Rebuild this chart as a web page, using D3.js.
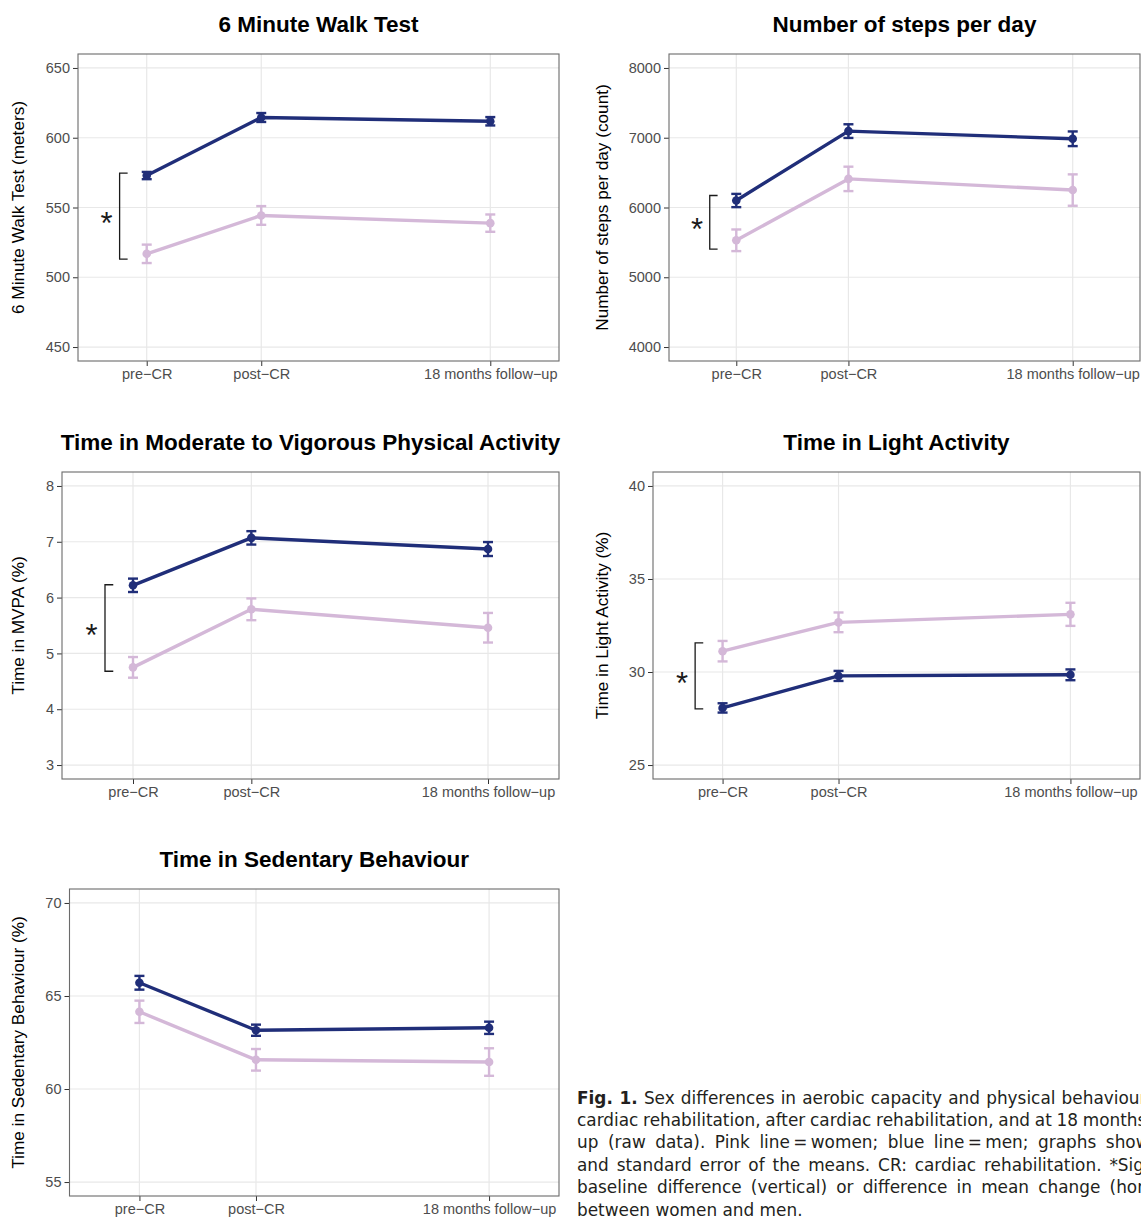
<!DOCTYPE html>
<html>
<head>
<meta charset="utf-8">
<script src="https://cdn.jsdelivr.net/npm/d3@7"></script>
<style>
  body { margin: 0; background: #fff; }
  svg { display: block; }
</style>
</head>
<body>
<script>
(function(){

    //time points on the x axis (months since start of CR)
    var timeLabels = ["pre\u2212CR", "post\u2212CR", "18 months follow\u2212up"];
    var timeMonths = [0, 6, 18];

    //panel titles and axis titles
    var panelTitles = ["6 Minute Walk Test", "Number of steps per day",
        "Time in Moderate to Vigorous Physical Activity", "Time in Light Activity",
        "Time in Sedentary Behaviour"];
    var yTitles = ["6 Minute Walk Test (meters)", "Number of steps per day (count)",
        "Time in MVPA (%)", "Time in Light Activity (%)", "Time in Sedentary Behaviour (%)"];
    var yTicks = [
        [450, 500, 550, 600, 650],
        [4000, 5000, 6000, 7000, 8000],
        [3, 4, 5, 6, 7, 8],
        [25, 30, 35, 40],
        [55, 60, 65, 70]
    ];

    //means and standard errors, men (blue)
    var menMean = [
        [572.9, 614.5, 611.8],
        [6100, 7095, 6985],
        [6.22, 7.07, 6.87],
        [28.07, 29.79, 29.85],
        [65.71, 63.16, 63.29]
    ];
    var menSE = [
        [2.6, 3.2, 3.0],
        [95, 98, 105],
        [0.12, 0.12, 0.125],
        [0.25, 0.27, 0.29],
        [0.37, 0.30, 0.33]
    ];

    //means and standard errors, women (pink)
    var womenMean = [
        [516.8, 544.3, 538.8],
        [5530, 6410, 6250],
        [4.75, 5.79, 5.46],
        [31.12, 32.67, 33.1],
        [64.15, 61.57, 61.45]
    ];
    var womenSE = [
        [6.6, 6.7, 6.2],
        [155, 175, 225],
        [0.185, 0.195, 0.265],
        [0.55, 0.53, 0.62],
        [0.6, 0.58, 0.74]
    ];

    //baseline significance brackets (value range), none for sedentary
    var sigRange = [[513, 574.6], [5403, 6172], [4.68, 6.23], [28.02, 31.57], null];

    var captionLines = [
        "Sex differences in aerobic capacity and physical behaviour before",
        "cardiac rehabilitation, after cardiac rehabilitation, and at 18 months follow-",
        "up (raw data). Pink line\u2009=\u2009women; blue line\u2009=\u2009men; graphs show mean",
        "and standard error of the means. CR: cardiac rehabilitation. *Significant",
        "baseline difference (vertical) or difference in mean change (horizontal)",
        "between women and men."
    ];

    var width = 1141,
        height = 1217;

    var blue = "#202e79",
        pink = "#d4b8d8";

    var fontSans = "'Liberation Sans', Arial, sans-serif";

    //plot area of each panel
    var panels = [
        {left: 78,  right: 559,  top: 54,  bottom: 361,  yTitleX: 18},
        {left: 669, right: 1140, top: 54,  bottom: 361,  yTitleX: 602},
        {left: 62,  right: 559,  top: 472, bottom: 779,  yTitleX: 18},
        {left: 653, right: 1140, top: 472, bottom: 779,  yTitleX: 602},
        {left: 69.5, right: 559, top: 889, bottom: 1196, yTitleX: 18}
    ];

    var svg = d3.select("body")
        .append("svg")
        .attr("width", width)
        .attr("height", height);

    panels.forEach(function(p, i){
        drawPanel(p, i);
    });

    drawCaption();

    function drawPanel(p, i){
        var ticks = yTicks[i];
        var lo = ticks[0],
            hi = ticks[ticks.length - 1],
            pad = (hi - lo) * 0.05;

        var x = d3.scaleLinear()
            .domain([-3.6, 21.6])
            .range([p.left, p.right]);

        var y = d3.scaleLinear()
            .domain([lo - pad, hi + pad])
            .range([p.bottom, p.top]);

        var g = svg.append("g").attr("class", "panel");

        //grid lines
        g.selectAll(".hgrid")
            .data(ticks)
            .enter()
            .append("line")
            .attr("x1", p.left)
            .attr("x2", p.right)
            .attr("y1", function(d){ return y(d); })
            .attr("y2", function(d){ return y(d); })
            .attr("stroke", "#e8e8e8")
            .attr("stroke-width", 1.2);

        g.selectAll(".vgrid")
            .data(timeMonths)
            .enter()
            .append("line")
            .attr("x1", function(d){ return x(d); })
            .attr("x2", function(d){ return x(d); })
            .attr("y1", p.top)
            .attr("y2", p.bottom)
            .attr("stroke", "#e8e8e8")
            .attr("stroke-width", 1.2);

        //axes
        var yAxis = d3.axisLeft(y)
            .tickValues(ticks)
            .tickFormat(function(d){ return String(d); })
            .tickSize(5)
            .tickPadding(3);

        var xAxis = d3.axisBottom(x)
            .tickValues(timeMonths)
            .tickFormat(function(d, j){ return timeLabels[j]; })
            .tickSize(5)
            .tickPadding(3);

        var ya = g.append("g")
            .attr("transform", "translate(" + p.left + ",0)")
            .call(yAxis);

        var xa = g.append("g")
            .attr("transform", "translate(0," + p.bottom + ")")
            .call(xAxis);

        [ya, xa].forEach(function(a){
            a.select(".domain").remove();
            a.selectAll(".tick line").attr("stroke", "#333");
            a.selectAll(".tick text")
                .attr("fill", "#4d4d4d")
                .style("font-family", fontSans)
                .style("font-size", "14.5px");
        });

        //panel border
        g.append("rect")
            .attr("x", p.left)
            .attr("y", p.top)
            .attr("width", p.right - p.left)
            .attr("height", p.bottom - p.top)
            .attr("fill", "none")
            .attr("stroke", "#6b6b6b")
            .attr("stroke-width", 1.1);

        //titles
        g.append("text")
            .attr("x", (p.left + p.right) / 2)
            .attr("y", p.top - 22)
            .attr("text-anchor", "middle")
            .style("font-family", fontSans)
            .style("font-weight", "bold")
            .style("font-size", "22.5px")
            .text(panelTitles[i]);

        g.append("text")
            .attr("transform", "translate(" + (p.yTitleX + 6) + "," + ((p.top + p.bottom) / 2) + ") rotate(-90)")
            .attr("text-anchor", "middle")
            .style("font-family", fontSans)
            .style("font-size", "17.2px")
            .text(yTitles[i]);

        //series
        drawSeries(g, x, y, womenMean[i], womenSE[i], pink);
        drawSeries(g, x, y, menMean[i], menSE[i], blue);

        //significance bracket
        if (sigRange[i]){
            var r = sigRange[i];
            g.append("path")
                .attr("d", "M" + x(-1.0) + "," + y(r[1]) +
                    "H" + x(-1.42) + "V" + y(r[0]) + "H" + x(-1.0))
                .attr("fill", "none")
                .attr("stroke", "#1a1a1a")
                .attr("stroke-width", 1.3);

            g.append("text")
                .attr("x", x(-2.1))
                .attr("y", y((r[0] + r[1]) / 2) + 18)
                .attr("text-anchor", "middle")
                .style("font-family", fontSans)
                .style("font-size", "31px")
                .attr("fill", "#1a1a1a")
                .text("*");
        }
    };

    function drawSeries(g, x, y, means, ses, color){
        var pts = timeMonths.map(function(t, j){
            return {t: t, m: means[j], se: ses[j]};
        });

        var line = d3.line()
            .x(function(d){ return x(d.t); })
            .y(function(d){ return y(d.m); });

        g.append("path")
            .datum(pts)
            .attr("d", line)
            .attr("fill", "none")
            .attr("stroke", color)
            .attr("stroke-width", 3.4)
            .attr("stroke-linejoin", "round");

        var eb = g.selectAll(null)
            .data(pts)
            .enter()
            .append("g")
            .attr("stroke", color)
            .attr("stroke-width", 2.4);

        eb.append("line")
            .attr("x1", function(d){ return x(d.t); })
            .attr("x2", function(d){ return x(d.t); })
            .attr("y1", function(d){ return y(d.m - d.se); })
            .attr("y2", function(d){ return y(d.m + d.se); });

        eb.append("line")
            .attr("x1", function(d){ return x(d.t) - 5; })
            .attr("x2", function(d){ return x(d.t) + 5; })
            .attr("y1", function(d){ return y(d.m + d.se); })
            .attr("y2", function(d){ return y(d.m + d.se); });

        eb.append("line")
            .attr("x1", function(d){ return x(d.t) - 5; })
            .attr("x2", function(d){ return x(d.t) + 5; })
            .attr("y1", function(d){ return y(d.m - d.se); })
            .attr("y2", function(d){ return y(d.m - d.se); });

        g.selectAll(null)
            .data(pts)
            .enter()
            .append("circle")
            .attr("cx", function(d){ return x(d.t); })
            .attr("cy", function(d){ return y(d.m); })
            .attr("r", 4.3)
            .attr("fill", color);
    };

    function drawCaption(){
        var capX = 577,
            capWidth = 630;

        var cap = svg.append("g")
            .style("font-family", "'DejaVu Sans', Verdana, sans-serif")
            .style("font-size", "16.9px")
            .attr("fill", "#231f20");

        captionLines.forEach(function(txt, k){
            var t = cap.append("text")
                .attr("x", capX)
                .attr("y", 1103.5 + k * 22.4);
            var full = txt;
            if (k === 0){
                t.append("tspan").style("font-weight", "bold").text("Fig. 1.");
                t.append("tspan").text(" " + txt);
                full = "Fig. 1. " + txt;
            } else {
                t.text(txt);
            }
            //justify all lines but the last
            if (k < captionLines.length - 1){
                var natural = t.node().getComputedTextLength();
                var spaces = (full.match(/ /g) || []).length;
                t.style("word-spacing", ((capWidth - natural) / spaces) + "px");
            }
        });
    };

})();
</script>
</body>
</html>
